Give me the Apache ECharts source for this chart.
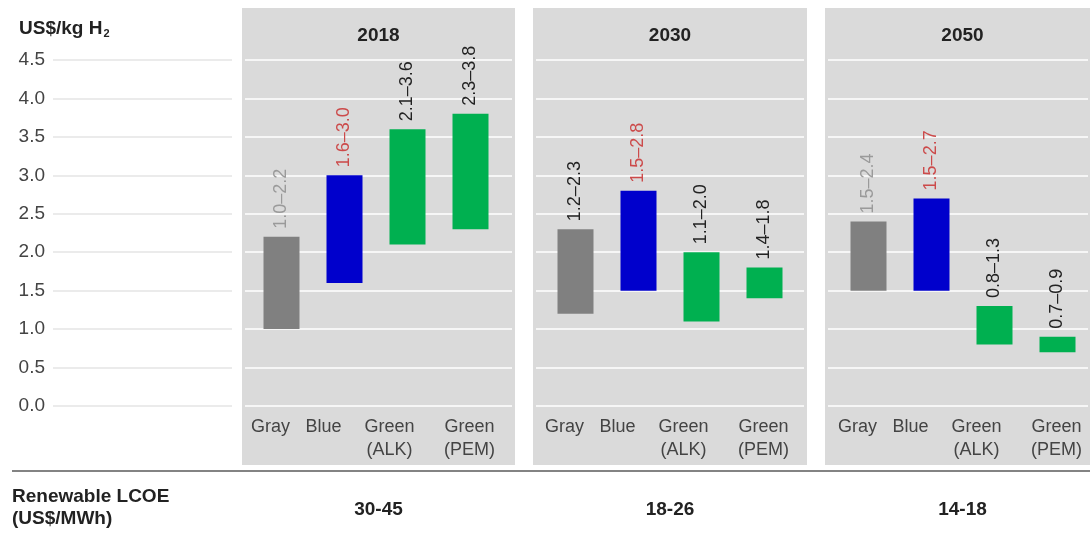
<!DOCTYPE html>
<html>
<head>
<meta charset="utf-8">
<title>Hydrogen production cost ranges</title>
<script src="https://cdn.jsdelivr.net/npm/echarts@6/dist/echarts.min.js"></script>
<style>
  html, body { margin: 0; padding: 0; background: #ffffff; }
  #chart { width: 1090px; height: 539px; }
</style>
</head>
<body>
<div id="chart"></div>
<script>
// ---- data ----
const years = ['2018', '2030', '2050'];
const categories = ['Gray', 'Blue', 'Green\n(ALK)', 'Green\n(PEM)'];
const low2018 = [1.0, 1.6, 2.1, 2.3];
const high2018 = [2.2, 3.0, 3.6, 3.8];
const low2030 = [1.2, 1.5, 1.1, 1.4];
const high2030 = [2.3, 2.8, 2.0, 1.8];
const low2050 = [1.5, 1.5, 0.8, 0.7];
const high2050 = [2.4, 2.7, 1.3, 0.9];
const lcoeRanges = ['30-45', '18-26', '14-18'];
const yMin = 0, yMax = 4.5, yStep = 0.5;

// ---- styling ----
const FONT = "'Liberation Sans', Arial, sans-serif";
const barColors = ['#808080', '#0000cc', '#00b050', '#00b050'];
const labelColors = [
  ['#9a9a9a', '#cc4a4a', '#222222', '#222222'],
  ['#222222', '#cc4a4a', '#222222', '#222222'],
  ['#9a9a9a', '#cc4a4a', '#222222', '#222222']
];
const lows = [low2018, low2030, low2050];
const highs = [high2018, high2030, high2050];

// panel geometry (background boxes, gridline areas, bar areas)
const panels = [
  { x: 242, w: 273, lineL: 245, lineR: 512, barL: 250 },
  { x: 533, w: 274, lineL: 536, lineR: 804, barL: 544 },
  { x: 825, w: 265, lineL: 828, lineR: 1088, barL: 837 }
];
const barAreaW = 252;
const plotTop = 60, plotBottom = 133;

const grids = [], xAxes = [], yAxes = [], series = [], graphics = [];

// left value axis with light gridlines
grids.push({ left: 53, width: 179, top: plotTop, bottom: plotBottom });
xAxes.push({ gridIndex: 0, type: 'value', show: false });
yAxes.push({
  gridIndex: 0, type: 'value', min: yMin, max: yMax, interval: yStep,
  axisLine: { show: false }, axisTick: { show: false },
  axisLabel: {
    margin: 8, fontFamily: FONT, fontSize: 19, color: '#444',
    formatter: v => v.toFixed(1)
  },
  splitLine: { lineStyle: { color: '#e4e4e4', width: 1.5 } }
});

const shifts = [22, 42, 36, 2];
const richCat = {};
shifts.forEach((p, i) => {
  richCat['c' + i] = { fontFamily: FONT, fontSize: 18, color: '#444', lineHeight: 23, padding: [0, p, 0, 0] };
});

panels.forEach((p, k) => {
  // panel background
  graphics.push({
    type: 'rect', z: -10, silent: true,
    shape: { x: p.x, y: 8, width: p.w, height: 457 },
    style: { fill: '#dadada' }
  });
  // panel year heading
  graphics.push({
    type: 'text', silent: true, x: p.x + p.w / 2 + (k === 2 ? 5 : 0), y: 36,
    style: { text: years[k], textAlign: 'center', textVerticalAlign: 'middle',
             font: 'bold 19px ' + FONT, fill: '#222' }
  });
  // LCOE value under the panel
  graphics.push({
    type: 'text', silent: true, x: p.x + p.w / 2 + (k === 2 ? 5 : 0), y: 510,
    style: { text: lcoeRanges[k], textAlign: 'center', textVerticalAlign: 'middle',
             font: 'bold 19px ' + FONT, fill: '#222' }
  });

  // gridline grid (white lines across the panel)
  const gLine = grids.length;
  grids.push({ left: p.lineL, width: p.lineR - p.lineL, top: plotTop, bottom: plotBottom });
  xAxes.push({ gridIndex: gLine, type: 'value', show: false });
  yAxes.push({
    gridIndex: gLine, type: 'value', min: yMin, max: yMax, interval: yStep,
    axisLine: { show: false }, axisTick: { show: false }, axisLabel: { show: false },
    splitLine: { lineStyle: { color: '#ffffff', width: 1.5 } }
  });

  // bar grid
  const gBar = grids.length;
  grids.push({ left: p.barL, width: barAreaW, top: plotTop, bottom: plotBottom });
  xAxes.push({
    gridIndex: gBar, type: 'category', data: categories,
    axisLine: { show: false }, axisTick: { show: false },
    axisLabel: {
      interval: 0, margin: 10,
      formatter: (v, i) => v.split('\n').map(s => '{c' + i + '|' + s + '}').join('\n'),
      rich: richCat
    }
  });
  yAxes.push({ gridIndex: gBar, type: 'value', min: yMin, max: yMax, show: false, splitLine: { show: false } });

  const lo = lows[k], hi = highs[k];
  series.push({
    type: 'bar', xAxisIndex: gBar, yAxisIndex: gBar, stack: 'r' + k,
    barWidth: 36, silent: true,
    itemStyle: { color: 'transparent' },
    data: lo
  });
  series.push({
    type: 'bar', xAxisIndex: gBar, yAxisIndex: gBar, stack: 'r' + k,
    barWidth: 36, silent: true,
    data: hi.map((h, i) => ({
      value: Math.round((h - lo[i]) * 10) / 10,
      itemStyle: { color: barColors[i] },
      label: { color: labelColors[k][i] }
    })),
    label: {
      show: true, position: 'top', rotate: 90, align: 'left', verticalAlign: 'middle',
      distance: 8, fontFamily: FONT, fontSize: 18,
      formatter: prm => lo[prm.dataIndex].toFixed(1) + '\u2013' + hi[prm.dataIndex].toFixed(1)
    }
  });
});

// bottom rule and row caption
graphics.push({
  type: 'line', silent: true,
  shape: { x1: 12, y1: 471, x2: 1090, y2: 471 },
  style: { stroke: '#5a5a5a', lineWidth: 1.5 }
});
graphics.push({
  type: 'text', silent: true, x: 12, y: 508,
  style: { text: 'Renewable LCOE\n(US$/MWh)', textAlign: 'left', textVerticalAlign: 'middle',
           font: 'bold 19px ' + FONT, fill: '#222', lineHeight: 22 }
});

const chart = echarts.init(document.getElementById('chart'), null, { renderer: 'canvas' });
chart.setOption({
  animation: false,
  backgroundColor: '#ffffff',
  title: {
    left: 14, top: 12,
    text: '{a|US$/kg H}{s|2}',
    textStyle: {
      rich: {
        a: { fontFamily: FONT, fontWeight: 'bold', fontSize: 19, color: '#222', lineHeight: 24 },
        s: { fontFamily: FONT, fontWeight: 'bold', fontSize: 11, color: '#222', lineHeight: 24, padding: [10, 0, 0, 1] }
      }
    }
  },
  grid: grids,
  xAxis: xAxes,
  yAxis: yAxes,
  series: series,
  graphic: graphics
});
</script>
</body>
</html>
